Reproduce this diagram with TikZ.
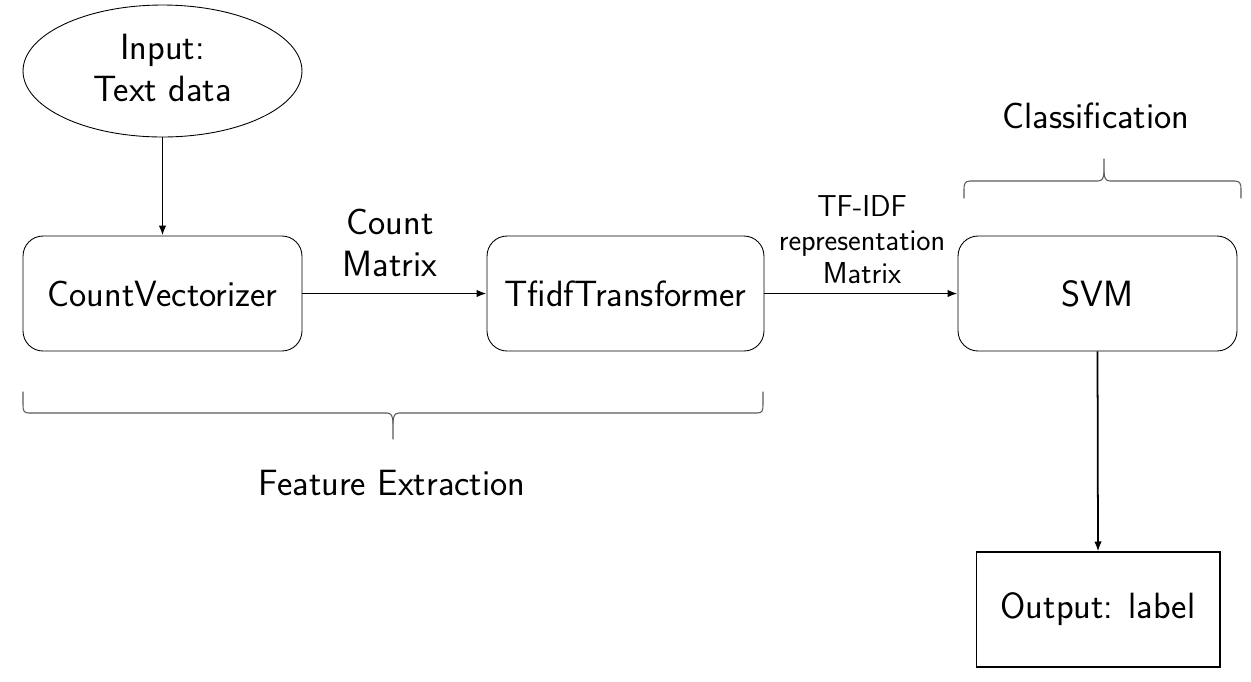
\documentclass[tikz,border=0pt]{standalone}
\usetikzlibrary{shapes.geometric,arrows.meta}
\begin{document}
\begin{tikzpicture}[x=0.02cm,y=-0.02cm,
  every node/.style={font=\sffamily\fontsize{20.8}{24}\selectfont, align=center},
  procbox/.style={draw, rounded corners=0.4cm, minimum width=5.58cm, minimum height=2.3cm, line width=0.5pt},
  outbox/.style={draw, minimum width=4.88cm, minimum height=2.3cm, line width=0.6pt},
  inell/.style={draw, ellipse, minimum width=5.58cm, minimum height=2.64cm, inner sep=0pt, line width=0.5pt},
  flow/.style={line width=1pt, -{Latex[length=2mm,width=1.5mm]}},
  smalllab/.style={font=\sffamily\fontsize{17.2}{19}\selectfont},
  bracepath/.style={line width=0.6pt, black!65, line cap=round}]
\useasboundingbox (0,0) rectangle (1251,681);

\node[inell] (inp) at (162.5,71) {};
\node (inpt) at (162.5,68) {Input:\\Text data};
\node[procbox] (cv) at (162.5,293.5) {CountVectorizer};
\node[procbox, minimum width=5.54cm] (tf) at (625.5,293.5) {TfidfTransformer};
\node[procbox] (svm) at (1097.5,293.5) {SVM};
\node[outbox] (out) at (1098,609.5) {Output: label};

\draw[flow] (inp.south) -- (cv.north);
\draw[flow] (cv.east) -- (tf.west);
\draw[flow] (tf.east) -- (svm.west);
\draw[flow] (svm.south) -- (out.north);

\node (cm) at (390,243) {Count\\Matrix};
\node[smalllab] (tfl) at (862,240) {TF-IDF\\representation\\Matrix};

% Feature Extraction brace
\draw[bracepath] (23,392) -- (23,405) .. controls (23,411) and (24,413) .. (29,413) -- (387,413)
  .. controls (391,413) and (393,416) .. (393,423) -- (393,439);
\draw[bracepath] (763,392) -- (763,405) .. controls (763,411) and (762,413) .. (757,413) -- (399,413)
  .. controls (395,413) and (393,416) .. (393,423);
\node (fe) at (392,483) {Feature Extraction};

% Classification brace
\draw[bracepath] (964,198) -- (964,189) .. controls (964,184) and (965,181) .. (970,181) -- (1098,181)
  .. controls (1102,181) and (1104,178) .. (1104,172) -- (1104,159);
\draw[bracepath] (1241,198) -- (1241,189) .. controls (1241,184) and (1240,181) .. (1235,181) -- (1110,181)
  .. controls (1106,181) and (1104,178) .. (1104,172);
\node (cl) at (1096,116) {Classification};
\end{tikzpicture}
\end{document}
